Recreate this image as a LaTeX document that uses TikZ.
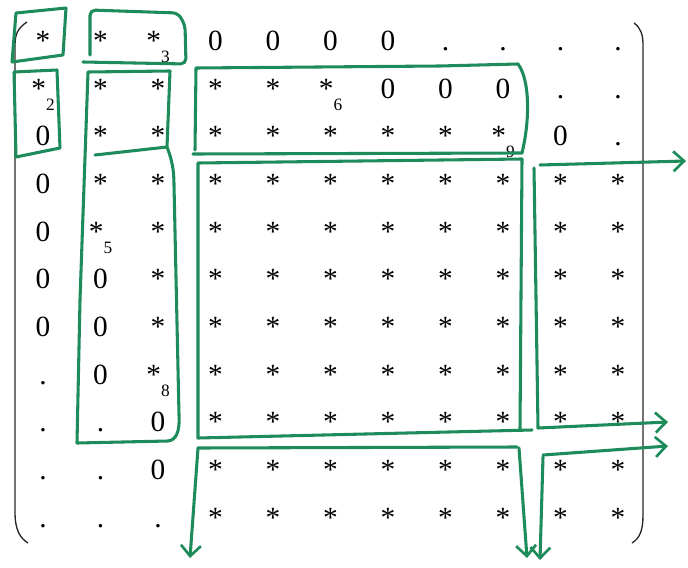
\documentclass[tikz,border=0pt]{standalone}
\usepackage{fontspec}
\setmainfont{Liberation Serif}
\usetikzlibrary{arrows.meta}
\definecolor{grn}{RGB}{30,140,90}
\newcommand{\subx}[1]{\raisebox{-9pt}{\fontsize{13}{13}\selectfont #1}}
\begin{document}
\begin{tikzpicture}[x=0.75pt,y=-0.75pt,
  entry/.style={anchor=base, inner sep=0pt, font=\fontsize{22}{22}\selectfont},
  gline/.style={draw=grn, line width=2.3pt, line cap=round, line join=round},
  garrow/.style={gline, -{Straight Barb[length=8pt,width=15pt,line width=2pt]}},
  bracket/.style={draw=black!85, line width=1pt}]
\useasboundingbox (0,0) rectangle (688,567);
% matrix entries
\foreach \row [count=\r] in {
  {*,*,*\subx{3},0,0,0,0,.,.,.,.},
  {*\subx{2},*,*,*,*,*\subx{6},0,0,0,.,.},
  {0,*,*,*,*,*,*,*,*\subx{9},0,.},
  {0,*,*,*,*,*,*,*,*,*,*},
  {0,*\subx{5},*,*,*,*,*,*,*,*,*},
  {0,0,*,*,*,*,*,*,*,*,*},
  {0,0,*,*,*,*,*,*,*,*,*},
  {.,0,*\subx{8},*,*,*,*,*,*,*,*},
  {.,.,0,*,*,*,*,*,*,*,*},
  {.,.,0,*,*,*,*,*,*,*,*},
  {.,.,.,*,*,*,*,*,*,*,*}}
{
  \foreach \e [count=\c] in \row {
    \node[entry] (m\r-\c) at ({43+57.5*(\c-1)},{50.5+47.65*(\r-1)}) {\e};
  }
}
% brackets
\draw[bracket] (27,22) .. controls (18,28) and (15,34) .. (15,45) -- (15,512) .. controls (15,530) and (20,538) .. (28,543);
\draw[bracket] (634,23) .. controls (641,28) and (643,35) .. (643,45) -- (643,515) .. controls (643,530) and (640,538) .. (632,543);
% green blocks
\draw[gline] (16,13) -- (66,8) -- (63,55) -- (12,62) -- cycle;
\draw[gline, rounded corners=4pt] (90,55) -- (90,10) -- (178,13) -- (185,25) -- (186,64) -- (83,62);
\draw[gline] (14,72) -- (57,70) -- (60,148) -- (16,157) -- cycle;
\draw[gline] (88,72) -- (170,71) -- (167,147) .. controls (172,160) and (174,170) .. (174,185) -- (179,415) .. controls (180,432) and (176,440) .. (168,441) -- (77,443) -- (80,300) -- (88,72);
\draw[gline] (95,155) -- (167,147);
\draw[gline] (195,150) -- (196,68) -- (440,66) -- (518,64) .. controls (530,80) and (530,120) .. (522,153);
\draw[gline] (193,154) -- (522,153);
\draw[gline] (198,438) -- (198,163) -- (522,159) -- (520,430);
\draw[gline] (198,438) -- (532,430);
\draw[garrow] (540,165) -- (686,161);
\draw[gline] (534,168) -- (538,428);
\draw[garrow] (538,428) -- (668,422);
\draw[gline] (198,448) -- (517,447);
\draw[garrow] (198,448) -- (190,558);
\draw[garrow] (519,448) -- (527,558);
\draw[garrow] (543,455) -- (668,446);
\draw[garrow] (543,457) -- (540,560);
\end{tikzpicture}
\end{document}
